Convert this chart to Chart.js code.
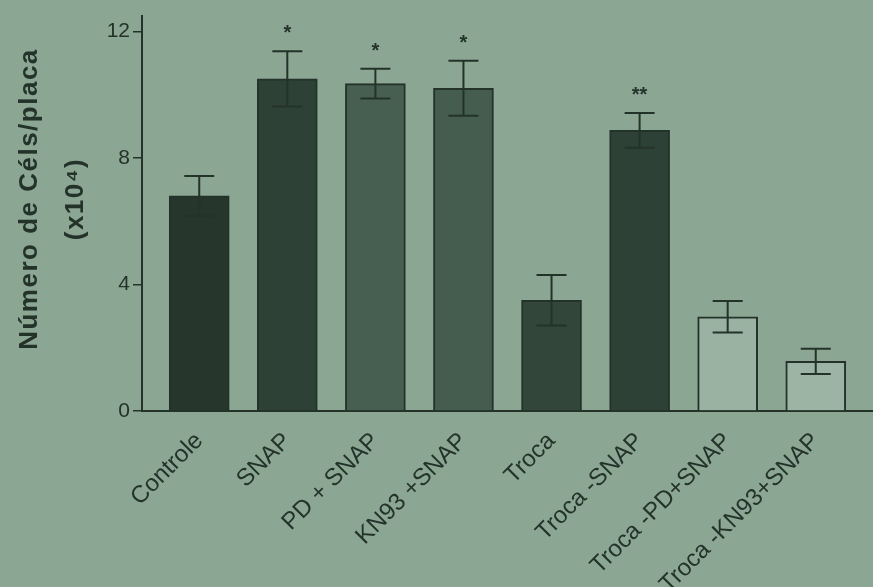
<!DOCTYPE html>
<html>
<head>
<meta charset="utf-8">
<script src="https://cdn.jsdelivr.net/npm/chart.js@4.4.1/dist/chart.umd.min.js"></script>
<style>
html,body{margin:0;padding:0;background:#8ba693;}
#wrap{width:873px;height:587px;position:relative;}
</style>
</head>
<body>
<div id="wrap"><canvas id="c" width="873" height="587"></canvas></div>
<script>
const categories = ['Controle','SNAP','PD + SNAP','KN93 +SNAP','Troca','Troca -SNAP','Troca -PD+SNAP','Troca -KN93+SNAP'];
const means = [6.8, 10.5, 10.35, 10.2, 3.5, 8.87, 2.98, 1.57];
const sem = [0.63, 0.87, 0.47, 0.87, 0.8, 0.55, 0.5, 0.4];
const marks = ['', '*', '*', '*', '', '**', '', ''];
const yTicks = [0, 4, 8, 12];

const BG = '#8ba693';
const INK = '#24332a';
const fills = ['#26362d','#2e4136','#465f51','#445d4f','#32463a','#2e4136','#9ab2a2','#9cb4a4'];

const bgPlugin = {
  id: 'bg',
  beforeDraw(chart) {
    const ctx = chart.ctx;
    ctx.save();
    ctx.fillStyle = BG;
    ctx.fillRect(0, 0, chart.width, chart.height);
    ctx.restore();
  }
};

const extrasPlugin = {
  id: 'extras',
  afterDatasetsDraw(chart) {
    const ctx = chart.ctx;
    const xs = chart.scales.x, ys = chart.scales.y;
    ctx.save();
    ctx.strokeStyle = INK;
    ctx.lineWidth = 2;
    ctx.fillStyle = INK;
    for (let i = 0; i < means.length; i++) {
      const cx = xs.getPixelForValue(i);
      const yTop = ys.getPixelForValue(means[i] + sem[i]);
      const yBot = ys.getPixelForValue(means[i] - sem[i]);
      const hw = 15;
      ctx.beginPath();
      ctx.moveTo(cx, yTop); ctx.lineTo(cx, yBot);
      ctx.moveTo(cx - hw, yTop); ctx.lineTo(cx + hw, yTop);
      ctx.moveTo(cx - hw, yBot); ctx.lineTo(cx + hw, yBot);
      ctx.stroke();
      if (marks[i]) {
        ctx.font = 'bold 20px "Liberation Sans", Arial, sans-serif';
        ctx.textAlign = 'center';
        ctx.textBaseline = 'alphabetic';
        ctx.fillText(marks[i], cx, yTop - 12);
      }
    }
    // y-axis title
    const midY = 199;
    ctx.font = 'bold 26px "Liberation Sans", Arial, sans-serif';
    ctx.letterSpacing = '1.5px';
    ctx.textAlign = 'center';
    ctx.textBaseline = 'middle';
    ctx.translate(30, midY);
    ctx.rotate(-Math.PI / 2);
    ctx.fillText('Número de Céls/placa', 0, 0);
    ctx.fillText('(x10⁴)', 0, 46);
    ctx.restore();
  }
};

new Chart(document.getElementById('c'), {
  type: 'bar',
  data: {
    datasets: [{
      data: means.map((v, i) => ({x: i, y: v})),
      backgroundColor: fills,
      borderColor: INK,
      borderWidth: 2,
      barThickness: 60
    }]
  },
  options: {
    responsive: false,
    animation: false,
    layout: {padding: {top: 14, right: 0, left: 0, bottom: 0}},
    plugins: {legend: {display: false}, tooltip: {enabled: false}},
    scales: {
      x: {
        type: 'linear',
        offset: false,
        min: -0.65,
        max: 7.65,
        afterBuildTicks(axis) { axis.ticks = categories.map((c, i) => ({value: i})); },
        afterFit(axis) { axis.height = 176; },
        grid: {display: false},
        border: {display: true, color: INK, width: 2},
        ticks: {
          autoSkip: false,
          maxRotation: 45,
          minRotation: 45,
          padding: 8,
          color: INK,
          font: {family: '"Liberation Sans", Arial, sans-serif', size: 24},
          callback: (v) => categories[v] !== undefined ? categories[v] : ''
        }
      },
      y: {
        min: 0,
        max: 12.5,
        afterBuildTicks(axis) { axis.ticks = yTicks.map(v => ({value: v})); },
        afterFit(axis) { axis.width = 142; },
        grid: {display: true, drawOnChartArea: false, drawTicks: true, tickLength: 9, color: INK, lineWidth: 1.5},
        border: {display: true, color: INK, width: 2},
        ticks: {
          padding: 3,
          color: INK,
          font: {family: '"Liberation Sans", Arial, sans-serif', size: 21}
        }
      }
    }
  },
  plugins: [bgPlugin, extrasPlugin]
});
</script>
</body>
</html>
